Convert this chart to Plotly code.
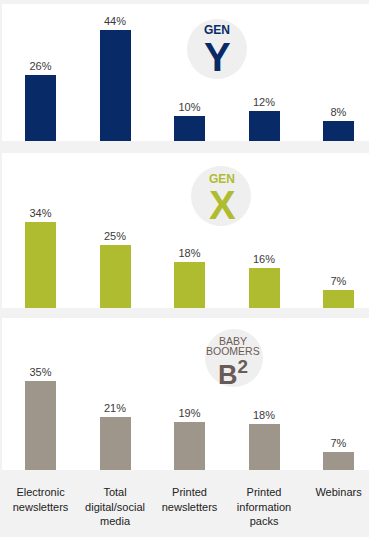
import plotly.graph_objects as go

categories = ["Electronic<br>newsletters", "Total<br>digital/social<br>media", "Printed<br>newsletters",
              "Printed<br>information<br>packs", "Webinars"]
gen_y = [26, 44, 10, 12, 8]
gen_x = [34, 25, 18, 16, 7]
boomers = [35, 21, 19, 18, 7]

W, H = 369, 537
colors = ["#082a66", "#b0bc2f", "#9e958b"]
series = [gen_y, gen_x, boomers]
# panel pixel extents (top, bottom)
panels = [(4, 141, 54.2), (153, 308, 61.3), (318, 470, 60.0)]
FONT = "Liberation Sans, Arial, sans-serif"

fig = go.Figure()
xs = list(range(len(categories)))
for i, (vals, col, (t, b, ymax)) in enumerate(zip(series, colors, panels)):
    n = "" if i == 0 else str(i + 1)
    fig.add_trace(go.Bar(
        x=xs, y=vals, marker=dict(color=col, line=dict(width=0)), width=0.416,
        text=[f"{v}%" for v in vals], textposition="outside",
        textfont=dict(size=11, color="#3a3a3a", family=FONT),
        cliponaxis=False, xaxis="x" + n, yaxis="y" + n, showlegend=False, hoverinfo="skip"))
    dom = [1 - b / H, 1 - t / H]
    fig.layout["yaxis" + n] = dict(domain=dom, range=[0, ymax], visible=False, anchor="x" + n)
    xa = dict(domain=[2 / W, 1], range=[-0.517, 4.409], anchor="y" + n, showgrid=False,
              zeroline=False, showline=False, fixedrange=True)
    if i == 2:
        xa.update(tickmode="array", tickvals=xs, ticktext=categories, ticks="outside",
                  ticklen=12, tickcolor="rgba(0,0,0,0)",
                  tickfont=dict(size=11, color="#222222", family=FONT))
    else:
        xa.update(showticklabels=False)
    fig.layout["xaxis" + n] = xa

def px_circle(cx, cy, r):
    return dict(type="circle", xref="paper", yref="paper", layer="below",
                x0=(cx - r) / W, x1=(cx + r) / W, y0=1 - (cy + r) / H, y1=1 - (cy - r) / H,
                fillcolor="#efefef", line=dict(width=0))

shapes = []
for (t, b, _) in panels:
    shapes.append(dict(type="rect", xref="paper", yref="paper", layer="below",
                       x0=2 / W, x1=1, y0=1 - b / H, y1=1 - t / H,
                       fillcolor="white", line=dict(width=0)))
shapes += [px_circle(217, 49, 30), px_circle(221, 196, 30), px_circle(234, 358, 29)]

def ann(text, cx, cy, size, color, bold=True):
    return dict(text=f"<b>{text}</b>" if bold else text, x=cx / W, y=1 - cy / H,
                xref="paper", yref="paper", showarrow=False, xanchor="center", yanchor="middle",
                font=dict(size=size, color=color, family=FONT))

annotations = [
    ann("GEN", 217, 30, 12, "#082a66"),
    ann("Y", 217, 57, 40, "#082a66"),
    ann("GEN", 222, 179, 12, "#b0bc2f"),
    ann("X", 222, 205, 40, "#b0bc2f"),
    ann("BABY", 233, 341, 10.5, "#6b5b57", bold=False),
    ann("BOOMERS", 233, 351, 10.5, "#6b5b57", bold=False),
    ann("B<sup>2</sup>", 233, 373, 27, "#6b5b57", bold=True),
]

fig.update_layout(width=W, height=H, margin=dict(l=0, r=0, t=0, b=0),
                  paper_bgcolor="#f2f2f2", plot_bgcolor="rgba(0,0,0,0)",
                  shapes=shapes, annotations=annotations, bargap=0)
fig.write_html("out.html", config={"displayModeBar": False, "staticPlot": True},
               post_script="document.body.style.margin='0';document.body.style.overflow='hidden';")
